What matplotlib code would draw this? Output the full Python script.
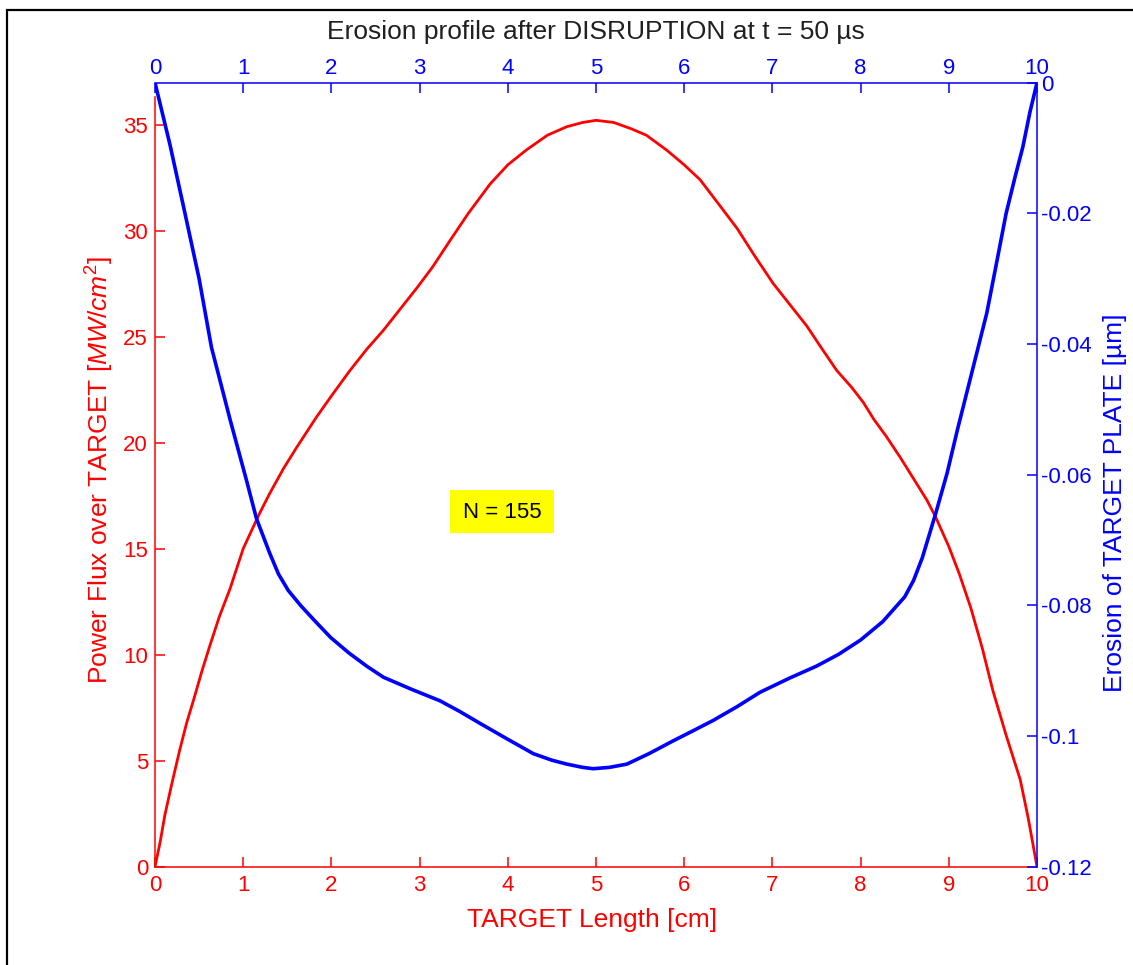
import matplotlib
matplotlib.use("Agg")
import matplotlib.pyplot as plt
from matplotlib.patches import Rectangle

plt.rcParams["font.family"] = ["Liberation Sans", "DejaVu Sans"]
plt.rcParams["axes.unicode_minus"] = False
plt.rcParams["mathtext.fontset"] = "custom"
plt.rcParams["mathtext.rm"] = "Liberation Sans"
plt.rcParams["mathtext.it"] = "Liberation Sans:italic"

# Power flux deposited over the target [MW/cm^2] versus position [cm]
flux_x = [0.0, 0.06, 0.11, 0.19, 0.28, 0.36, 0.44, 0.53, 0.62, 0.73, 0.85,
          1.0, 1.1, 1.19, 1.3, 1.46, 1.61, 1.83, 2.0, 2.21, 2.4, 2.59, 2.78,
          2.97, 3.15, 3.34, 3.55, 3.8, 4.0, 4.21, 4.45, 4.67, 4.85, 5.0,
          5.2, 5.4, 5.57, 5.8, 6.0, 6.18, 6.4, 6.6, 6.8, 7.01, 7.2, 7.39,
          7.55, 7.73, 7.9, 8.03, 8.15, 8.29, 8.45, 8.63, 8.75, 8.85, 9.0,
          9.12, 9.25, 9.38, 9.5, 9.65, 9.81, 9.9, 10.0]
flux_v = [0.0, 1.2, 2.4, 3.9, 5.5, 6.8, 7.9, 9.2, 10.4, 11.8, 13.1,
          15.0, 15.9, 16.7, 17.6, 18.8, 19.8, 21.2, 22.2, 23.4, 24.4, 25.3,
          26.3, 27.3, 28.3, 29.5, 30.8, 32.2, 33.1, 33.8, 34.5, 34.9, 35.1,
          35.2, 35.1, 34.8, 34.5, 33.8, 33.1, 32.4, 31.2, 30.1, 28.8, 27.5,
          26.5, 25.5, 24.5, 23.4, 22.6, 21.9, 21.1, 20.3, 19.3, 18.1, 17.3,
          16.5, 15.1, 13.8, 12.2, 10.3, 8.3, 6.2, 4.1, 2.3, 0.0]

# Erosion depth of the target plate [um] versus position [cm]
eros_x = [0.0, 0.17, 0.34, 0.5, 0.64, 0.85, 1.04, 1.15, 1.3, 1.4, 1.51,
          1.65, 1.8, 1.99, 2.2, 2.4, 2.59, 2.9, 3.23, 3.45, 3.69, 4.0,
          4.29, 4.5, 4.67, 4.85, 4.97, 5.15, 5.35, 5.6, 5.88, 6.1, 6.33,
          6.6, 6.86, 7.2, 7.5, 7.75, 8.0, 8.25, 8.5, 8.6, 8.7, 8.85, 8.98,
          9.1, 9.24, 9.43, 9.55, 9.65, 9.75, 9.84, 9.92, 10.0]
eros_v = [0.0, -0.0095, -0.020, -0.030, -0.0405, -0.0515, -0.061, -0.0667,
          -0.072, -0.0752, -0.0777, -0.080, -0.0822, -0.0849, -0.0873,
          -0.0893, -0.091, -0.0928, -0.0946, -0.0962, -0.0981, -0.1005,
          -0.1027, -0.1037, -0.1043, -0.1048, -0.105, -0.1048, -0.1043,
          -0.1027, -0.1007, -0.0992, -0.0976, -0.0955, -0.0933, -0.0911,
          -0.0893, -0.0875, -0.0853, -0.0825, -0.0787, -0.0762, -0.0727,
          -0.066, -0.0598, -0.053, -0.0455, -0.0353, -0.027, -0.020,
          -0.0145, -0.0098, -0.0045, 0.0]

x_ticks = [0, 1, 2, 3, 4, 5, 6, 7, 8, 9, 10]
flux_ticks = [0, 5, 10, 15, 20, 25, 30, 35]
eros_ticks = [0, -0.02, -0.04, -0.06, -0.08, -0.1, -0.12]
eros_labels = ["0", "-0.02", "-0.04", "-0.06", "-0.08", "-0.1", "-0.12"]

W, H = 1133, 965
fig = plt.figure(figsize=(W / 100, H / 100), dpi=100)

left, right = 155, 1037
bottom = 866.7
red_top, blue_top = 97, 82.7

RED = "#ff0000"
BLUE = "#0000ff"
TICK_FS = 16
LABEL_FS = 19

ax1 = fig.add_axes([left / W, (H - bottom) / H, (right - left) / W, (bottom - red_top) / H])
ax2 = fig.add_axes([left / W, (H - bottom) / H, (right - left) / W, (bottom - blue_top) / H])
ax2.set_facecolor("none")

# Power flux axes (left / bottom, red)
ax1.plot(flux_x, flux_v, color=RED, lw=2.0, solid_joinstyle="round")
ax1.set_xlim(0, 10)
ax1.set_ylim(0, 36.3)
ax1.set_xticks(x_ticks)
ax1.set_yticks(flux_ticks)
for s in ("top", "right"):
    ax1.spines[s].set_visible(False)
for s in ("left", "bottom"):
    ax1.spines[s].set_color(RED)
    ax1.spines[s].set_linewidth(1.1)
ax1.tick_params(axis="x", direction="in", length=7.5, width=1.1, color=RED,
                labelcolor=RED, labelsize=TICK_FS, pad=6)
ax1.tick_params(axis="y", direction="in", length=7.5, width=1.1, color=RED,
                labelcolor=RED, labelsize=TICK_FS, pad=5)

# Erosion axes (top / right, blue)
ax2.plot(eros_x, eros_v, color=BLUE, lw=2.6, solid_joinstyle="round")
ax2.set_xlim(0, 10)
ax2.set_ylim(-0.12, 0)
ax2.set_xticks(x_ticks)
ax2.set_yticks(eros_ticks)
ax2.set_yticklabels(eros_labels)
ax2.xaxis.tick_top()
ax2.yaxis.tick_right()
for s in ("left", "bottom"):
    ax2.spines[s].set_visible(False)
for s in ("top", "right"):
    ax2.spines[s].set_color(BLUE)
    ax2.spines[s].set_linewidth(1.1)
ax2.tick_params(axis="x", direction="in", length=7.5, width=1.1, color=BLUE,
                labelcolor=BLUE, labelsize=TICK_FS, pad=3)
ax2.tick_params(axis="y", direction="in", length=7.5, width=1.1, color=BLUE,
                labelcolor=BLUE, labelsize=TICK_FS, pad=3)

# Titles and axis labels
fig.text(596 / W, 1 - 32 / H, "Erosion profile after DISRUPTION at t = 50 \u00b5s",
         ha="center", va="center", fontsize=LABEL_FS, color="#202020")
fig.text(592 / W, 1 - 920 / H, "TARGET Length [cm]", ha="center", va="center",
         fontsize=LABEL_FS, color=RED)
fig.text(100 / W, 1 - 470 / H, r"Power Flux over TARGET [$MW/cm^2$]",
         ha="center", va="center", rotation=90, fontsize=LABEL_FS, color=RED)
fig.text(1115 / W, 1 - 503 / H, "Erosion of TARGET PLATE [\u00b5m]",
         ha="center", va="center", rotation=90, fontsize=LABEL_FS, color=BLUE)

# Annotation with the number of pulses
fig.patches.append(Rectangle((450 / W, 1 - 533 / H), 104 / W, 43 / H,
                             transform=fig.transFigure, facecolor="#ffff00",
                             edgecolor="none", zorder=5))
fig.text(502 / W, 1 - 512 / H, "N = 155", ha="center", va="center",
         fontsize=16, color="black", zorder=6)

# Figure frame
fig.patches.append(Rectangle((7 / W, -0.05), 1.1, 1 - 10 / H + 0.05,
                             transform=fig.transFigure, facecolor="none",
                             edgecolor="black", linewidth=1.6, zorder=10))

fig.savefig("out.png", dpi=100)
